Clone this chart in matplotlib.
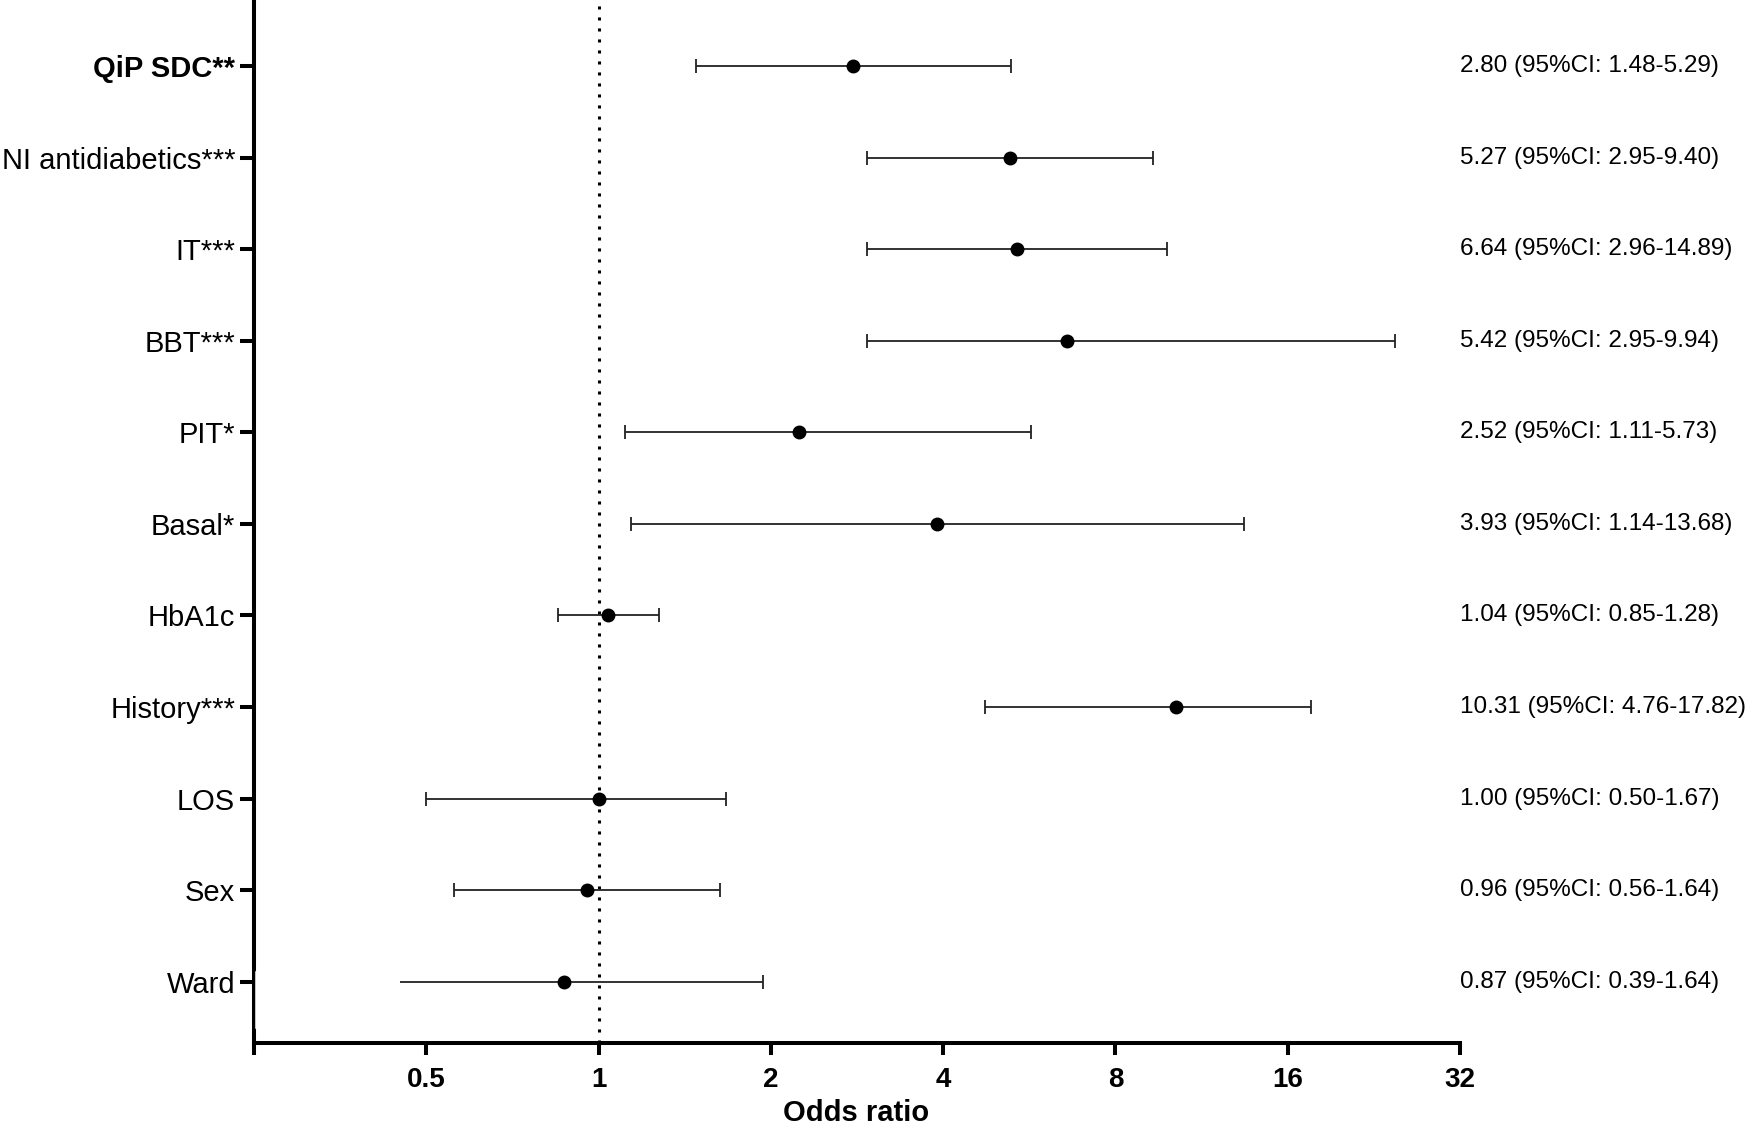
import matplotlib
matplotlib.use('Agg')
import matplotlib.pyplot as plt
from matplotlib.lines import Line2D
from matplotlib.ticker import NullLocator

plt.rcParams['font.family'] = ['Liberation Sans', 'DejaVu Sans']

# values (top row first)
labels = ['QiP SDC**', 'NI antidiabetics***', 'IT***', 'BBT***', 'PIT*', 'Basal*',
          'HbA1c', 'History***', 'LOS', 'Sex', 'Ward']
odds = [2.78, 5.24, 5.38, 6.58, 2.24, 3.90, 1.04, 10.2, 1.00, 0.955, 0.869]
ci_low = [1.48, 2.94, 2.94, 2.95, 1.11, 1.14, 0.85, 4.73, 0.50, 0.56, 0.449]
ci_high = [5.25, 9.31, 9.86, 24.6, 5.69, 13.4, 1.276, 17.6, 1.67, 1.63, 1.94]
annot = ['2.80 (95%CI: 1.48-5.29)', '5.27 (95%CI: 2.95-9.40)', '6.64 (95%CI: 2.96-14.89)',
         '5.42 (95%CI: 2.95-9.94)', '2.52 (95%CI: 1.11-5.73)', '3.93 (95%CI: 1.14-13.68)',
         '1.04 (95%CI: 0.85-1.28)', '10.31 (95%CI: 4.76-17.82)', '1.00 (95%CI: 0.50-1.67)',
         '0.96 (95%CI: 0.56-1.64)', '0.87 (95%CI: 0.39-1.64)']
xticks = [0.25, 0.5, 1, 2, 4, 8, 16, 32]
xticklabels = ['', '0.5', '1', '2', '4', '8', '16', '32']

ypos = [len(labels) - i for i in range(len(labels))]

fig = plt.figure(figsize=(17.5, 11.22), dpi=100)
ax = fig.add_axes([254/1750, 79/1122, (1460-254)/1750, 1043/1122])

ax.set_xscale('log', base=2)
ax.set_xlim(0.25, 32)
ax.set_ylim(0.33, 11.72)

# reference line at OR = 1
ax.axvline(1, color='black', lw=2.2, linestyle=(0, (1, 2.6)), zorder=1)

bar_col = '#222222'
ax.hlines(ypos, ci_low, ci_high, color=bar_col, lw=1.3, zorder=2)
ax.plot(ci_high, ypos, '|', ms=10, mew=1.3, color=bar_col, zorder=2)
# Ward's lower end runs without a cap
ax.plot(ci_low[:-1], ypos[:-1], '|', ms=10, mew=1.3, color=bar_col, zorder=2)
ax.plot(odds, ypos, 'o', ms=9, color='black', zorder=3)

for y, t in zip(ypos, annot):
    ax.text(32, y, t, ha='left', va='center', fontsize=17.5, clip_on=False)

ax.set_xticks(xticks)
ax.set_xticklabels(xticklabels, fontsize=20, fontweight='bold')
ax.xaxis.set_minor_locator(NullLocator())
ax.set_yticks(ypos)
ax.set_yticklabels(labels, fontsize=21)
ax.get_yticklabels()[0].set_fontweight('bold')

ax.tick_params(axis='x', width=2.9, length=8.6, pad=9, color='black')
ax.tick_params(axis='y', width=2.9, length=10, pad=3.5, color='black')

for s in ['top', 'right']:
    ax.spines[s].set_visible(False)
for s in ['left', 'bottom']:
    ax.spines[s].set_linewidth(2.9)

# small thinned stretch of the y axis line near the last row
fig.add_artist(Line2D([255.6/1750, 255.6/1750], [(1122-972)/1122, (1122-1028)/1122],
                      transform=fig.transFigure, color='white', lw=1.1))

fig.text(856/1750, 1/1122, 'Odds ratio', ha='center', va='baseline',
         fontsize=21, fontweight='bold')

fig.savefig('out.png', dpi=100)
